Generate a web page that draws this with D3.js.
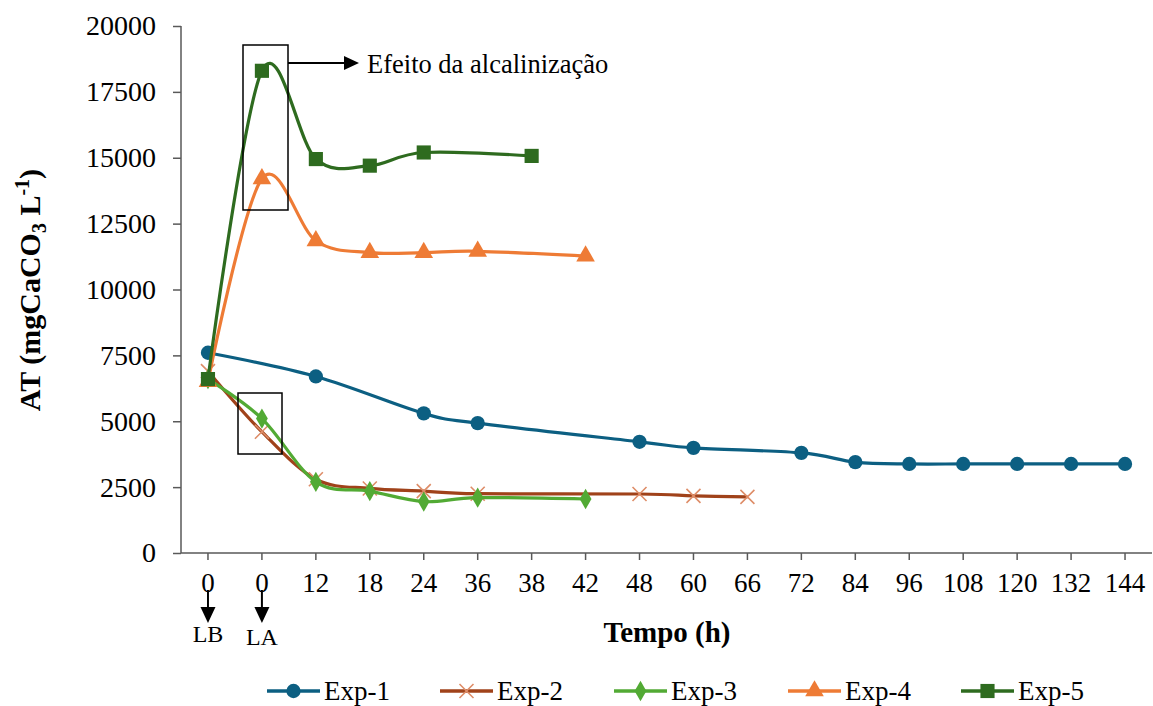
<!DOCTYPE html>
<html><head><meta charset="utf-8">
<script src="https://cdn.jsdelivr.net/npm/d3@7"></script>
<style>
html,body{margin:0;padding:0;background:#fff;}
svg text{font-family:"Liberation Serif","Times New Roman",serif;fill:#000;}
</style></head>
<body><svg id="c" width="1153" height="706"></svg>
<script>
// ---- data ----
const categories = ["0","0","12","18","24","36","38","42","48","60","66","72","84","96","108","120","132","144"];
const yTicks = [0,2500,5000,7500,10000,12500,15000,17500,20000];
const seriesNames = ["Exp-1","Exp-2","Exp-3","Exp-4","Exp-5"];
const exp1 = [7600,null,6700,null,5300,4930,null,null,4220,3990,null,3800,3450,3380,3380,3380,3380,3380];
const exp2 = [6900,4600,2800,2450,2350,2250,null,null,2240,2170,2130,null,null,null,null,null,null,null];
const exp3 = [6600,5100,2700,2350,1950,2100,null,2050,null,null,null,null,null,null,null,null,null,null];
const exp4 = [6500,14200,11850,11400,11400,11450,null,11270,null,null,null,null,null,null,null,null,null,null];
const exp5 = [6600,18300,14950,14700,15200,null,15070,null,null,null,null,null,null,null,null,null,null,null];
const seriesValues = [exp1,exp2,exp3,exp4,exp5];
const lineColors = ["#0C5F82","#A0421A","#52AA34","#EE7B35","#2E6B1F"];
const markerColors = ["#0C5F82","#DE8D68","#52AA34","#EE7B35","#2E6B1F"];
const markerTypes = ["circle","cross","diamond","triangle","square"];

// ---- layout ----
const svg = d3.select("#c");
const plotL = 181, plotR = 1152, plotT = 26, plotB = 553;
const x = d3.scaleBand().domain(d3.range(categories.length)).range([plotL, plotR]);
const xc = i => x(i) + x.bandwidth()/2;
const y = d3.scaleLinear().domain([0,20000]).range([plotB, plotT]);
const axisColor = "#595959";

// y axis
const yAxis = d3.axisLeft(y).tickValues(yTicks).tickSize(8).tickPadding(17).tickFormat(d3.format("d"));
const gy = svg.append("g").attr("transform",`translate(${plotL},0)`).call(yAxis);
gy.select(".domain").attr("stroke",axisColor).attr("stroke-width",1.5).attr("d",`M0,${plotT}V${plotB}`);
gy.selectAll(".tick line").attr("stroke",axisColor).attr("stroke-width",1.5);
gy.selectAll(".tick text").attr("font-size",28).attr("font-family","Liberation Serif").attr("fill","#000");

// x axis
const xAxis = d3.axisBottom(x).tickSize(7).tickPadding(13).tickFormat(i => categories[i]);
const gx = svg.append("g").attr("transform",`translate(0,${plotB})`).call(xAxis);
gx.select(".domain").attr("stroke",axisColor).attr("stroke-width",1.5).attr("d",`M${plotL},0H${plotR}`);
gx.selectAll(".tick line").attr("stroke",axisColor).attr("stroke-width",1.5);
gx.selectAll(".tick text").attr("font-size",27).attr("font-family","Liberation Serif").attr("fill","#000");

// axis titles
svg.append("text").attr("x",667).attr("y",642).attr("text-anchor","middle")
  .attr("font-size",29).attr("font-weight","bold").text("Tempo (h)");
const yt = svg.append("text").attr("transform","translate(40,290) rotate(-90)").attr("text-anchor","middle")
  .attr("font-size",30).attr("font-weight","bold");
yt.append("tspan").text("AT (mgCaCO");
yt.append("tspan").attr("font-size",20).attr("dy",6).text("3");
yt.append("tspan").attr("dy",-6).text(" L");
yt.append("tspan").attr("font-size",20).attr("dy",-11).text("-1");
yt.append("tspan").attr("dy",11).text(")");

// lines
const line = d3.line().x(d=>xc(d.i)).y(d=>y(d.v)).curve(d3.curveCardinal.tension(0));
function markerPath(type){
  if(type==="circle") return d3.symbol(d3.symbolCircle,160)();
  if(type==="square") return d3.symbol(d3.symbolSquare,200)();
  if(type==="diamond") return d3.symbol(d3.symbolDiamond,120)();
  if(type==="triangle") return d3.symbol(d3.symbolTriangle,150)();
  return "M-7,-7L7,7M-7,7L7,-7";
}
function drawMarker(g, type, color, cx, cy){
  const p = g.append("path").attr("d",markerPath(type)).attr("transform",`translate(${cx},${cy})`);
  if(type==="cross") p.attr("fill","none").attr("stroke",color).attr("stroke-width",1.6);
  else p.attr("fill",color);
}
seriesValues.forEach((vals,k)=>{
  const pts = vals.map((v,i)=>({i,v})).filter(d=>d.v!=null);
  const g = svg.append("g");
  g.append("path").attr("d",line(pts)).attr("fill","none").attr("stroke",lineColors[k]).attr("stroke-width",3.2);
  pts.forEach(d=>drawMarker(g, markerTypes[k], markerColors[k], xc(d.i), y(d.v)));
});

// annotations
const ann = svg.append("g").attr("fill","none").attr("stroke","#000").attr("stroke-width",1.5);
ann.append("rect").attr("x",243).attr("y",45).attr("width",45).attr("height",165);
ann.append("rect").attr("x",238).attr("y",393).attr("width",44).attr("height",61);
ann.append("line").attr("x1",288).attr("y1",63).attr("x2",346).attr("y2",63).attr("stroke-width",2);
svg.append("path").attr("d","M344,56L359,63L344,70Z").attr("fill","#000");
svg.append("text").attr("x",367).attr("y",73).attr("font-size",26.5).text("Efeito da alcalinização");

// LB / LA arrows
[[0,"LB",642],[1,"LA",645]].forEach(([i,lab,ty])=>{
  const cx = xc(i);
  svg.append("line").attr("x1",cx).attr("y1",590).attr("x2",cx).attr("y2",610).attr("stroke","#000").attr("stroke-width",2);
  svg.append("path").attr("d",`M${cx-7.5},607L${cx+7.5},607L${cx},623Z`).attr("fill","#000");
  svg.append("text").attr("x",cx).attr("y",ty).attr("text-anchor","middle").attr("font-size",24).text(lab);
});

// legend
const legX = [267,440,614,788,961];
seriesNames.forEach((n,k)=>{
  const g = svg.append("g");
  const ly = 691;
  g.append("line").attr("x1",legX[k]).attr("x2",legX[k]+53).attr("y1",ly).attr("y2",ly)
    .attr("stroke",lineColors[k]).attr("stroke-width",3.6);
  drawMarker(g, markerTypes[k], markerColors[k], legX[k]+26.5, ly);
  g.append("text").attr("x",legX[k]+57).attr("y",ly+9).attr("font-size",27).text(n);
});
</script></body></html>
